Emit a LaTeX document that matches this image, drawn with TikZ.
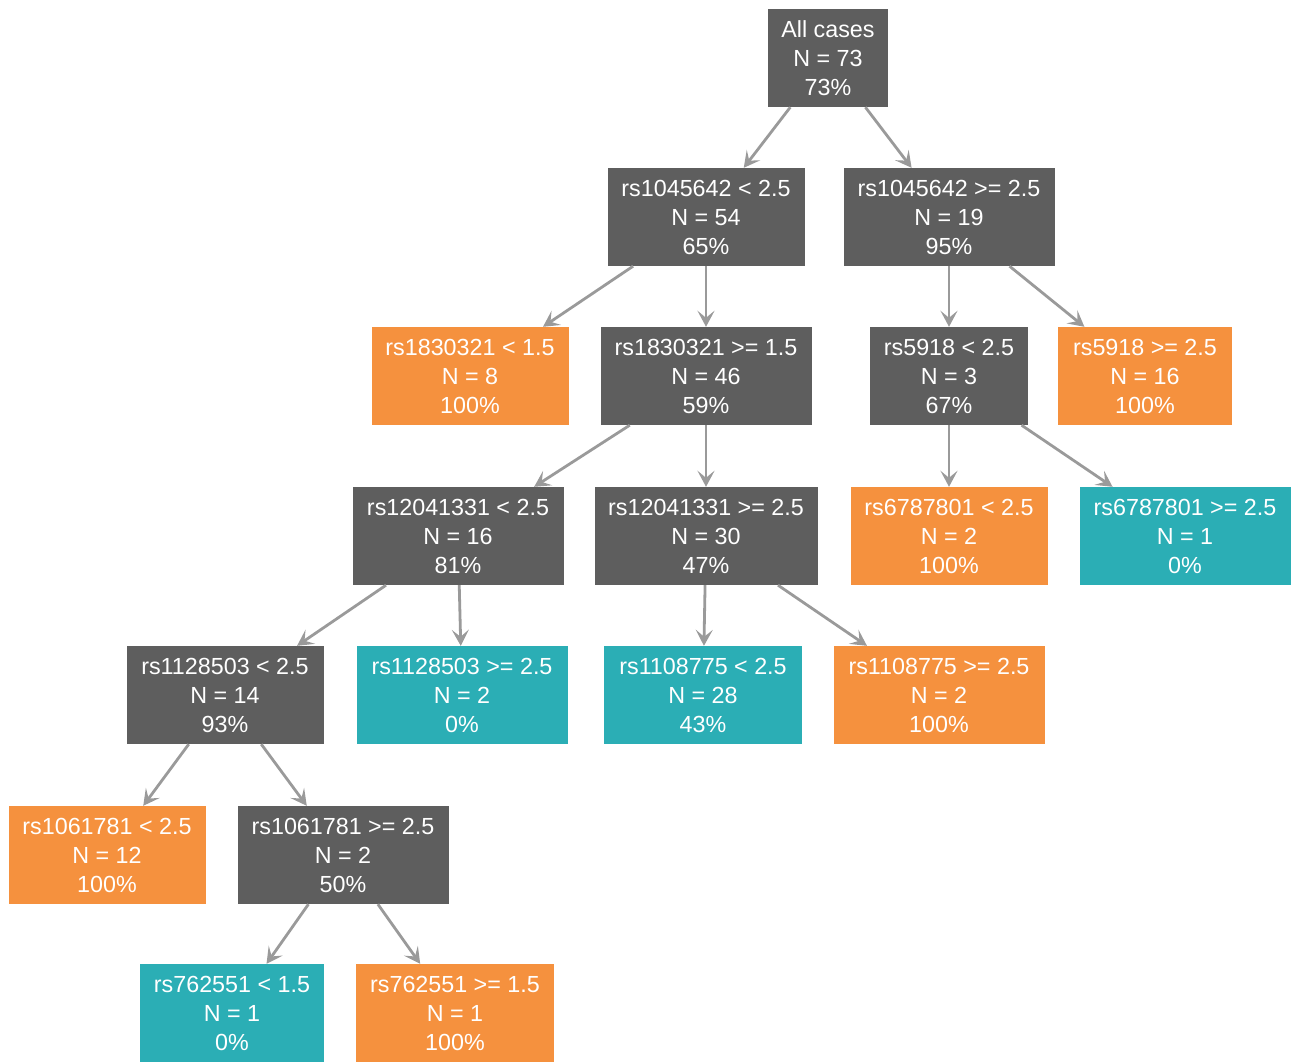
\documentclass[tikz,border=0pt]{standalone}
\usepackage{fontspec}
\setmainfont{Liberation Sans}
\usetikzlibrary{arrows.meta}
\definecolor{cgray}{HTML}{5E5E5E}
\definecolor{corange}{HTML}{F5913E}
\definecolor{cteal}{HTML}{2BAEB5}
\definecolor{cedge}{HTML}{9A9A9A}
\tikzset{
  box/.style={rectangle, inner sep=0pt, minimum height=98pt, text=white, align=center,
    font=\fontsize{23.3}{29}\selectfont},
  gbox/.style={box, fill=cgray},
  obox/.style={box, fill=corange},
  tbox/.style={box, fill=cteal},
  edge/.style={draw=cedge, line width=2.8pt, -{Stealth[length=16pt,width=17pt,inset=7pt]}}
}
\begin{document}
\begin{tikzpicture}[x=1pt,y=-1pt]
\useasboundingbox (0,0) rectangle (1295,1062);
\node[gbox, minimum width=120pt] (n1) at (828,58) {All cases\\N = 73\\73\%};
\node[gbox, minimum width=197pt] (n2) at (706,217) {rs1045642 < 2.5\\N = 54\\65\%};
\node[gbox, minimum width=211pt] (n3) at (949,217) {rs1045642 >= 2.5\\N = 19\\95\%};
\node[obox, minimum width=197pt] (n4) at (470,376) {rs1830321 < 1.5\\N = 8\\100\%};
\node[gbox, minimum width=211pt] (n5) at (706,376) {rs1830321 >= 1.5\\N = 46\\59\%};
\node[gbox, minimum width=158pt] (n6) at (949,376) {rs5918 < 2.5\\N = 3\\67\%};
\node[obox, minimum width=174pt] (n7) at (1145,376) {rs5918 >= 2.5\\N = 16\\100\%};
\node[gbox, minimum width=211pt] (n8) at (458,536) {rs12041331 < 2.5\\N = 16\\81\%};
\node[gbox, minimum width=223pt] (n9) at (706,536) {rs12041331 >= 2.5\\N = 30\\47\%};
\node[obox, minimum width=197pt] (n10) at (949,536) {rs6787801 < 2.5\\N = 2\\100\%};
\node[tbox, minimum width=211pt] (n11) at (1185,536) {rs6787801 >= 2.5\\N = 1\\0\%};
\node[gbox, minimum width=197pt] (n12) at (225,695) {rs1128503 < 2.5\\N = 14\\93\%};
\node[tbox, minimum width=211pt] (n13) at (462,695) {rs1128503 >= 2.5\\N = 2\\0\%};
\node[tbox, minimum width=198pt] (n14) at (703,695) {rs1108775 < 2.5\\N = 28\\43\%};
\node[obox, minimum width=211pt] (n15) at (939,695) {rs1108775 >= 2.5\\N = 2\\100\%};
\node[obox, minimum width=197pt] (n16) at (107,855) {rs1061781 < 2.5\\N = 12\\100\%};
\node[gbox, minimum width=211pt] (n17) at (343,855) {rs1061781 >= 2.5\\N = 2\\50\%};
\node[tbox, minimum width=184pt] (n18) at (232,1013) {rs762551 < 1.5\\N = 1\\0\%};
\node[obox, minimum width=198pt] (n19) at (455,1013) {rs762551 >= 1.5\\N = 1\\100\%};
\draw[edge] (n1) -- (n2);
\draw[edge] (n1) -- (n3);
\draw[edge] (n2) -- (n4);
\draw[edge] (n2) -- (n5);
\draw[edge] (n3) -- (n6);
\draw[edge] (n3) -- (n7);
\draw[edge] (n5) -- (n8);
\draw[edge] (n5) -- (n9);
\draw[edge] (n6) -- (n10);
\draw[edge] (n6) -- (n11);
\draw[edge] (n8) -- (n12);
\draw[edge] (n8) -- (n13);
\draw[edge] (n9) -- (n14);
\draw[edge] (n9) -- (n15);
\draw[edge] (n12) -- (n16);
\draw[edge] (n12) -- (n17);
\draw[edge] (n17) -- (n18);
\draw[edge] (n17) -- (n19);
\end{tikzpicture}
\end{document}
